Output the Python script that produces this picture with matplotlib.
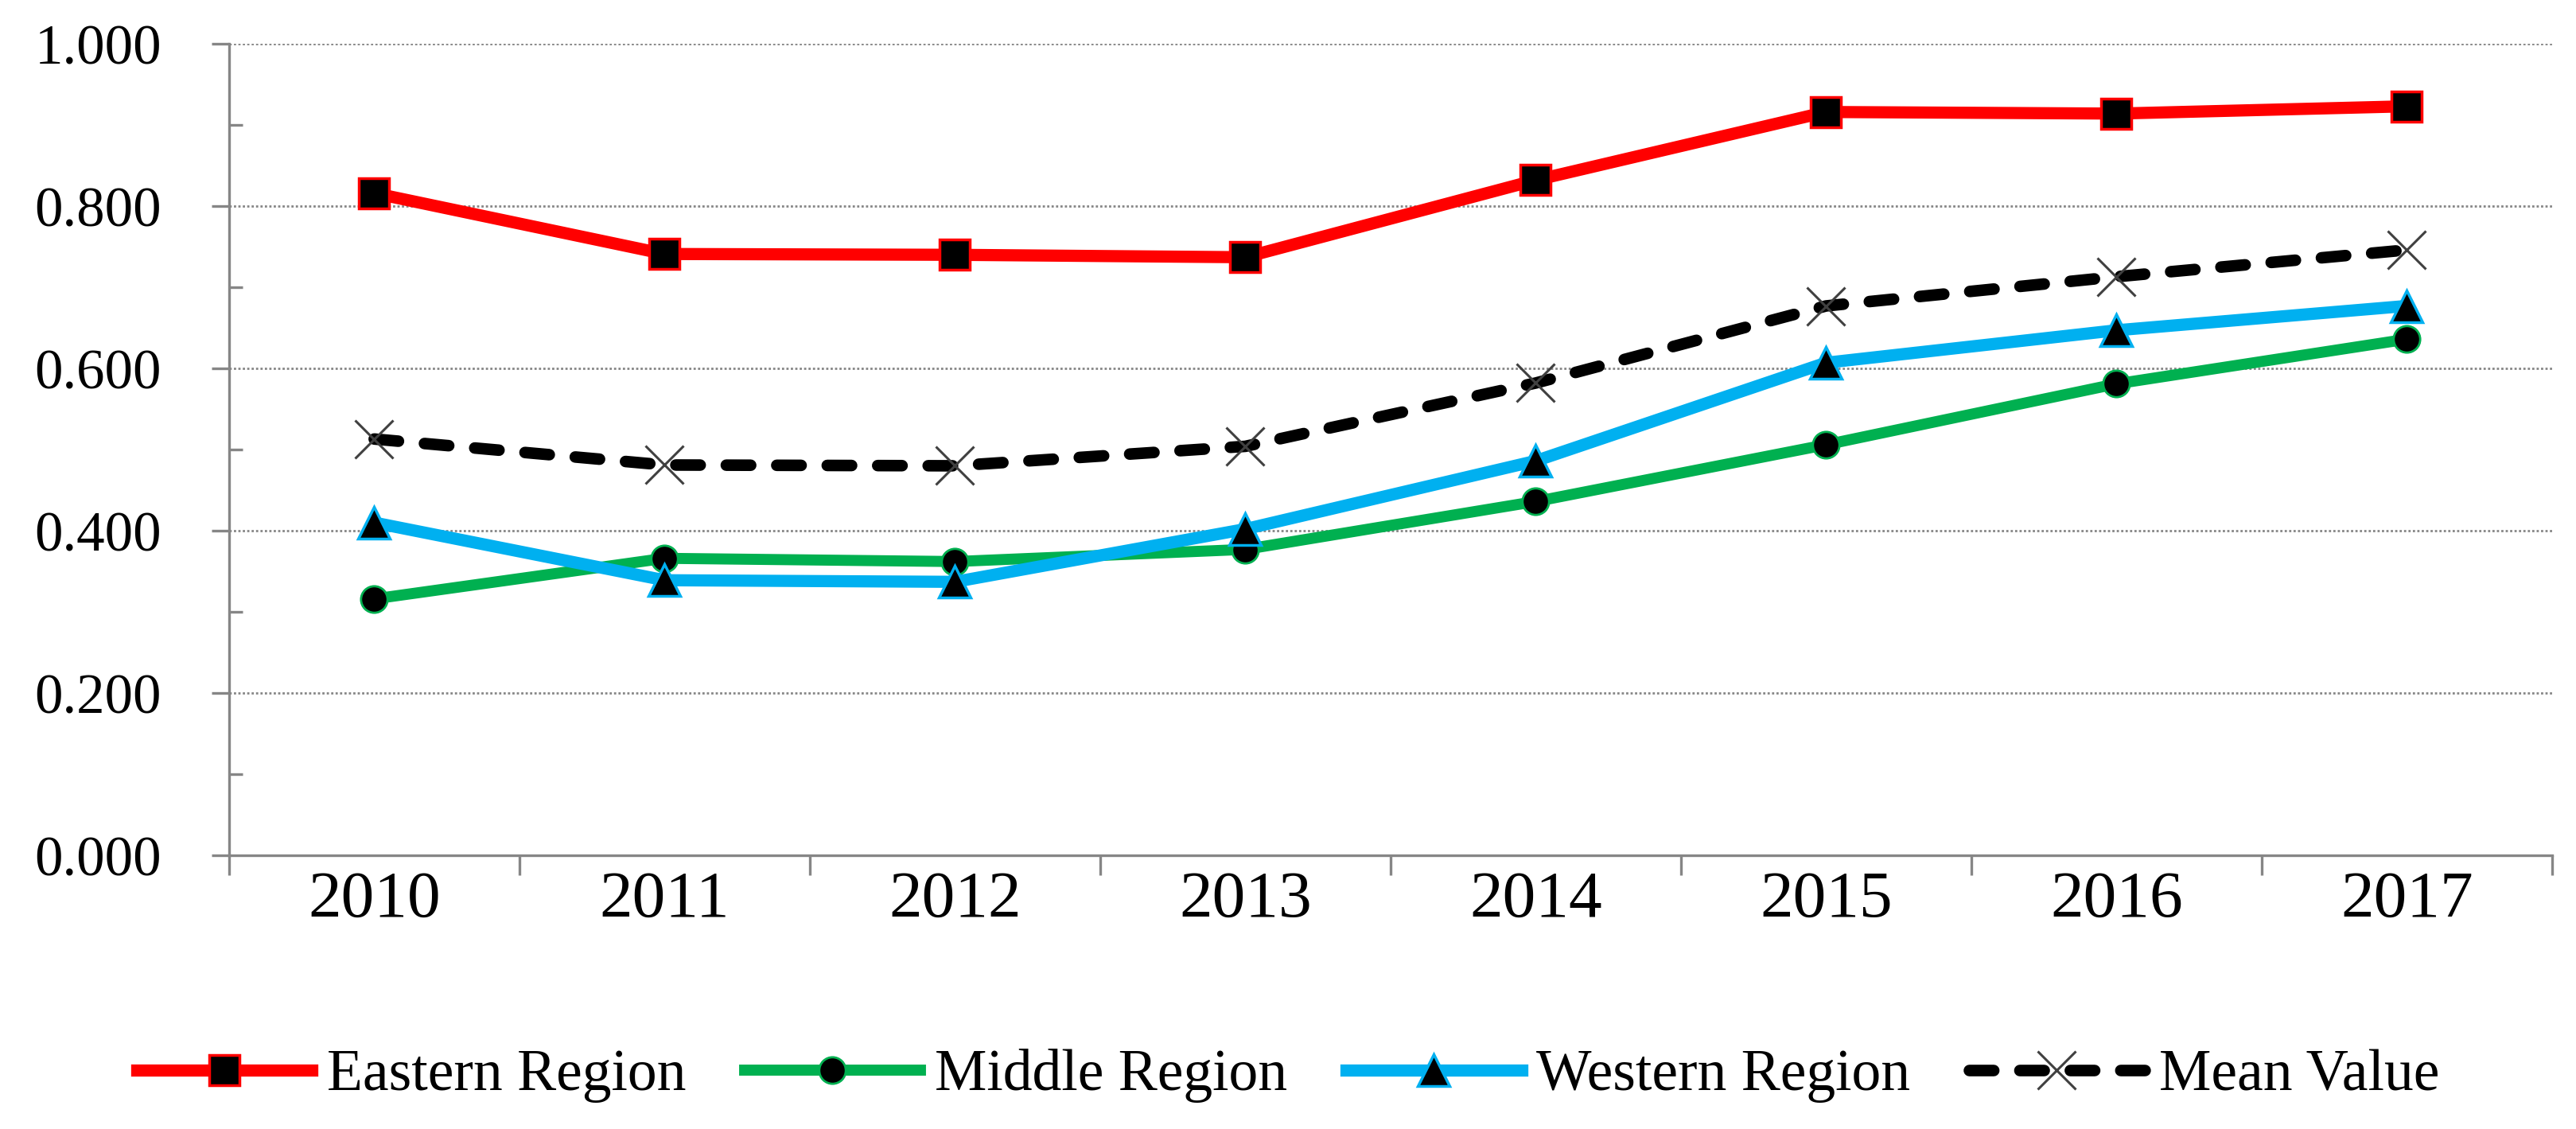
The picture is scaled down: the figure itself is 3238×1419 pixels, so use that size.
import matplotlib
matplotlib.use('Agg')
import matplotlib.pyplot as plt
import numpy as np

plt.rcParams['font.family'] = ['Liberation Serif', 'DejaVu Serif']

years = ['2010', '2011', '2012', '2013', '2014', '2015', '2016', '2017']
eastern = [0.816, 0.741, 0.740, 0.737, 0.832, 0.916, 0.914, 0.923]
middle = [0.316, 0.366, 0.362, 0.377, 0.436, 0.506, 0.581, 0.636]
western = [0.410, 0.339, 0.337, 0.402, 0.486, 0.607, 0.647, 0.677]
mean_value = [0.513, 0.481, 0.480, 0.504, 0.582, 0.677, 0.713, 0.746]

x = np.arange(len(years))
axis_grey = '#868686'

fig = plt.figure(figsize=(32.38, 14.19), dpi=100)
ax = fig.add_axes([0.0889, 0.2424, 0.9018, 0.7188])

ax.plot(x, eastern, color='#FF0000', lw=11, marker='s', ms=27,
        mfc='black', mec='#FF0000', mew=2.5, label='Eastern Region')
ax.plot(x, middle, color='#00B050', lw=10, marker='o', ms=24,
        mfc='black', mec='#00B050', mew=2, label='Middle Region')
ax.plot(x, western, color='#00B0F0', lw=11, marker='^', ms=29,
        mfc='black', mec='#00B0F0', mew=2.5, label='Western Region')
ax.plot(x, mean_value, color='black', lw=10.5, dashes=(2.1, 2.25),
        dash_capstyle='round', marker='x', ms=35, mec='#404040', mew=2.2,
        label='Mean Value')

ax.set_xlim(-0.5, len(years) - 0.5)
ax.set_ylim(0, 1.0)

# y axis: labelled major ticks outside, minor ticks inside
ax.set_yticks(np.arange(0, 1.01, 0.2))
ax.set_yticklabels(['%.3f' % v for v in np.arange(0, 1.01, 0.2)])
ax.set_yticks(np.arange(0.1, 1.0, 0.2), minor=True)
ax.tick_params(axis='y', which='major', direction='out', length=16, width=2.4,
               color=axis_grey, labelsize=51, pad=45)
ax.tick_params(axis='y', which='minor', direction='in', length=12, width=2.4,
               color=axis_grey)

# x axis: ticks at category borders, labels at centres
ax.set_xticks(np.arange(-0.5, len(years), 1.0))
ax.set_xticklabels([])
ax.set_xticks(x, minor=True)
ax.set_xticklabels(years, minor=True)
ax.tick_params(axis='x', which='major', direction='out', length=18, width=2.4,
               color=axis_grey)
ax.tick_params(axis='x', which='minor', length=0, labelsize=60, pad=14)

ax.grid(axis='y', which='major', color=axis_grey, lw=2, linestyle=(0, (1, 1)))
ax.set_axisbelow(True)

for side in ['top', 'right']:
    ax.spines[side].set_visible(False)
for side in ['left', 'bottom']:
    ax.spines[side].set_color(axis_grey)
    ax.spines[side].set_linewidth(2.4)

fig.legend(loc='center', bbox_to_anchor=(0.5, 0.047), ncol=4, frameon=False,
           fontsize=53, handlelength=3.0, handletextpad=0.25,
           columnspacing=1.0, numpoints=1)

fig.savefig('out.png', dpi=100, facecolor='white')
